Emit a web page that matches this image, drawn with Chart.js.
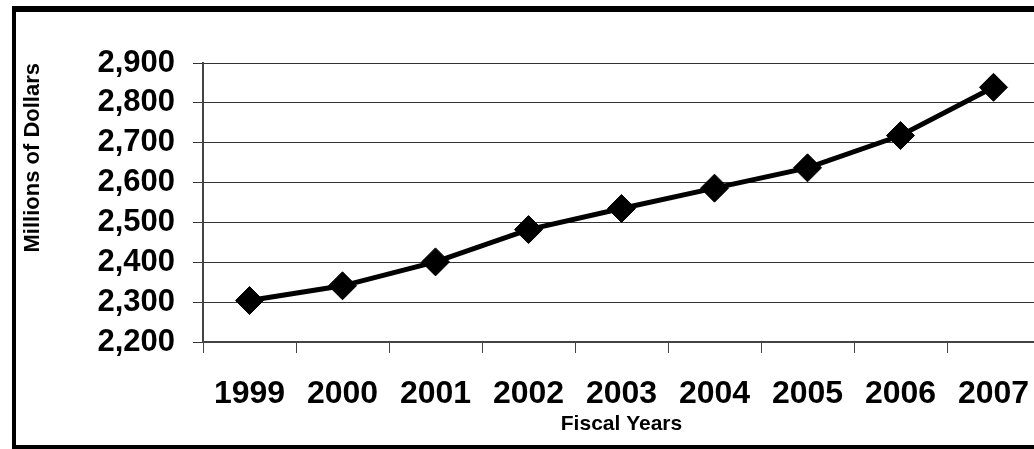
<!DOCTYPE html>
<html>
<head>
<meta charset="utf-8">
<script src="https://cdn.jsdelivr.net/npm/chart.js@4"></script>
<style>
  html, body { margin: 0; padding: 0; background: #fff; overflow: hidden; }
  #wrap { position: absolute; left: 0; top: 0; width: 1060px; height: 449px; }
  #frame {
    position: absolute; left: 12px; top: 6px; width: 1100px; height: 443px;
    box-sizing: border-box; border: 4px solid #000; border-top-width: 6px;
    pointer-events: none;
  }
</style>
</head>
<body>
<div id="wrap"><canvas id="canvas_spend" width="1060" height="449"></canvas></div>
<div id="frame"></div>
<script>
const years = ['1999', '2000', '2001', '2002', '2003', '2004', '2005', '2006', '2007'];
const spending = [2304, 2341, 2401, 2482, 2535, 2586, 2637, 2718, 2839];
const yMin = 2200;
const yMax = 2900;
const yStep = 100;

const canvasSpend = document.getElementById('canvas_spend');
const fontFamily = '"Liberation Sans", Arial, sans-serif';

const chart = new Chart(canvasSpend, {
  type: 'line',
  data: {
    labels: years,
    datasets: [
      {
        label: 'Spending',
        data: spending,
        borderColor: '#000',
        backgroundColor: '#000',
        borderWidth: 5,
        pointStyle: 'rectRot',
        pointRadius: 14,
        pointBorderWidth: 1,
        pointBackgroundColor: '#000',
        pointBorderColor: '#000',
        tension: 0
      }
    ]
  },
  options: {
    responsive: false,
    animation: false,
    layout: {
      padding: { left: 0, right: 20, top: 63, bottom: 0 }
    },
    plugins: {
      legend: { display: false },
      tooltip: { enabled: false }
    },
    scales: {
      x: {
        offset: true,
        grid: {
          offset: true,
          drawOnChartArea: false,
          drawTicks: true,
          tickLength: 11,
          color: '#444'
        },
        border: { color: '#444', width: 2 },
        ticks: {
          autoSkip: false,
          maxRotation: 0,
          color: '#000',
          padding: 22,
          font: { family: fontFamily, size: 32, weight: 'bold' }
        },
        title: {
          display: true,
          text: 'Fiscal Years',
          color: '#000',
          padding: { top: 0, bottom: 12 },
          font: { family: fontFamily, size: 21, weight: 'bold' }
        },
        afterFit: (scale) => { scale.height = 107; }
      },
      y: {
        min: yMin,
        max: yMax,
        grid: {
          color: '#333',
          lineWidth: 1,
          tickLength: 10
        },
        border: { color: '#444', width: 2 },
        ticks: {
          stepSize: yStep,
          autoSkip: false,
          color: '#000',
          padding: 18,
          font: { family: fontFamily, size: 31, weight: 'bold' },
          callback: (v) => v.toLocaleString('en-US')
        },
        title: {
          display: true,
          text: 'Millions of Dollars',
          align: 'end',
          color: '#000',
          padding: { top: 20, bottom: 0 },
          font: { family: fontFamily, size: 22, weight: 'bold' }
        },
        afterFit: (scale) => { scale.width = 203; }
      }
    }
  }
});
</script>
</body>
</html>
